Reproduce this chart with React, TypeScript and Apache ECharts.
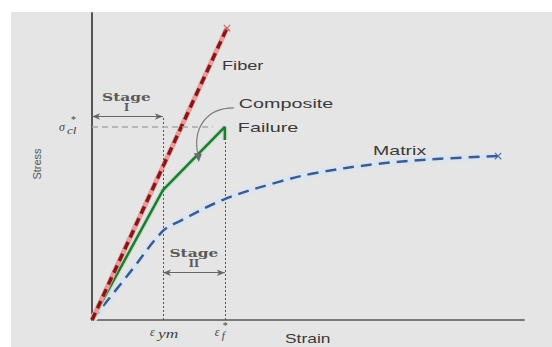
import React, { useEffect, useRef } from "react";
import * as echarts from "echarts";

// Data (strain, stress) in arbitrary units
const fiber: number[][] = [[0, 0], [3.75, 9.51]];
const composite: number[][] = [[0, 0], [1.97, 4.23], [3.69, 6.29], [3.69, 5.86]];
const matrix: number[][] = [
  [0, 0], [1.06, 1.56], [1.97, 2.9], [2.44, 3.22], [3.69, 3.94],
  [5.19, 4.5], [6.22, 4.79], [7.89, 5.08], [9.67, 5.25], [11.28, 5.34],
];
const epsYm = 1.97;
const epsF = 3.69;
const failDrop = 5.86;
const sigmaCl = 6.29;
const sigmaLineEnd = 3.35;
const stageIY = 6.63;
const stageIIY = 1.54;
const xMax = 12;
const yMax = 10;

const labelFont = "13px 'Liberation Sans', Arial, sans-serif";
const textColor = "#3a3a3a";
const crossPath = "path://M-1,-7L1,-7L1,7L-1,7Z M-7,-1L7,-1L7,1L-7,1Z";

export default function App() {
  const ref = useRef<HTMLDivElement>(null);
  useEffect(() => {
    if (!ref.current) return;
    const chart = echarts.init(ref.current, null, { renderer: "svg" });
    const lineBase = { type: "line", symbol: "none", silent: true, z: 3 };
    chart.setOption({
      animation: false,
      grid: { left: 92, right: 28, top: 13, bottom: 27 },
      xAxis: {
        type: "value", min: 0, max: xMax,
        axisLine: { show: true, onZero: false, lineStyle: { color: "#7a7a7a", width: 2 } },
        axisTick: { show: false }, axisLabel: { show: false }, splitLine: { show: false },
      },
      yAxis: {
        type: "value", min: 0, max: yMax,
        axisLine: { show: true, onZero: false, lineStyle: { color: "#555", width: 2 } },
        axisTick: { show: false }, axisLabel: { show: false }, splitLine: { show: false },
      },
      series: [
        {
          type: "line", data: [], silent: true,
          markLine: {
            silent: true, animation: false, label: { show: false },
            symbol: "none",
            data: [
              [{ coord: [epsYm, 0], lineStyle: { color: "#555", type: [2, 2], width: 1 } }, { coord: [epsYm, stageIY] }],
              [{ coord: [epsF, 0], lineStyle: { color: "#555", type: [2, 2], width: 1 } }, { coord: [epsF, failDrop] }],
              [{ coord: [0, sigmaCl], lineStyle: { color: "#a8a8a8", type: [6, 4], width: 1.5 } }, { coord: [sigmaLineEnd, sigmaCl] }],
            ],
          },
        },
        {
          type: "line", data: [], silent: true,
          markLine: {
            silent: true, animation: false, label: { show: false },
            symbol: ["arrow", "arrow"], symbolSize: [5, 8],
            lineStyle: { color: "#666", type: "solid", width: 1.2 },
            data: [
              [{ coord: [0, stageIY] }, { coord: [epsYm, stageIY] }],
              [{ coord: [epsYm, stageIIY] }, { coord: [epsF, stageIIY] }],
            ],
          },
        },
        // Matrix
        { ...lineBase, name: "MatrixHalo", data: matrix, smooth: 0.35, lineStyle: { color: "#dce5ee", width: 8 } },
        { ...lineBase, name: "Matrix", data: matrix, smooth: 0.35, lineStyle: { color: "#3b5b94", width: 2.5, type: [11, 7] } },
        // Composite
        { ...lineBase, name: "CompositeHalo", data: composite, lineStyle: { color: "#c4dfc8", width: 5 } },
        { ...lineBase, name: "Composite", data: composite, lineStyle: { color: "#1f7a33", width: 2.5 } },
        // Fiber
        { ...lineBase, name: "FiberHalo", data: fiber, lineStyle: { color: "#eb9a9a", width: 5 } },
        { ...lineBase, name: "Fiber", data: fiber, lineStyle: { color: "#861717", width: 3.5, type: [8, 5] } },
        // end crosses
        {
          type: "scatter", silent: true, z: 5,
          data: [
            { value: fiber[fiber.length - 1], itemStyle: { color: "#c25050" } },
            { value: matrix[matrix.length - 1], itemStyle: { color: "#3b5b94" } },
          ],
          symbol: crossPath, symbolSize: 9, symbolRotate: 45,
        },
      ],
    });

    const px = (x: number, y: number) => chart.convertToPixel({ gridIndex: 0 } as any, [x, y]) as number[];
    const t = (text: string, x: number, y: number, opts: any = {}) => ({
      type: "text", x, y, silent: true, z: 10,
      scaleX: opts.scaleX ?? 1, rotation: opts.rotation ?? 0,
      style: {
        text, fill: opts.fill ?? textColor, font: opts.font ?? labelFont,
        align: opts.align ?? "left", verticalAlign: opts.verticalAlign ?? "middle",
      },
    });

    const fTop = px(fiber[1][0], fiber[1][1]);
    const peak = px(composite[2][0], composite[2][1]);
    const mEnd = px(matrix[matrix.length - 1][0], matrix[matrix.length - 1][1]);
    const ym = px(epsYm, 0);
    const ef = px(epsF, 0);
    const sI = px(epsYm / 2, stageIY);
    const sII = px((epsYm + epsF) / 2, stageIIY);
    const sg = px(0, sigmaCl);
    const stageFont = "bold 11px 'DejaVu Serif', serif";
    const symFont = "italic 12px 'Liberation Serif', serif";
    const subFont = "italic 11px 'Liberation Serif', serif";

    const graphic: any[] = [
      { type: "rect", silent: true, z: -100, shape: { x: 11, y: 12, width: 541, height: 335 }, style: { fill: "#e5e5e5" } },
      t("Fiber", fTop[0] - 5, fTop[1] + 37, { scaleX: 1.4 }),
      t("Composite", peak[0] + 14, peak[1] - 23, { scaleX: 1.52 }),
      t("Failure", peak[0] + 13, peak[1] + 1, { scaleX: 1.52 }),
      t("Matrix", mEnd[0] - 125, mEnd[1] - 5, { scaleX: 1.5 }),
      t("Stage", sI[0] - 1, sI[1] - 20, { align: "center", font: stageFont, fill: "#5a5a5a", scaleX: 1.4 }),
      t("I", sI[0] - 1, sI[1] - 9, { align: "center", font: stageFont, fill: "#5a5a5a" }),
      t("Stage", sII[0], sII[1] - 20, { align: "center", font: stageFont, fill: "#5a5a5a", scaleX: 1.4 }),
      t("II", sII[0], sII[1] - 9, { align: "center", font: stageFont, fill: "#5a5a5a" }),
      // sigma*_cl
      t("σ", sg[0] - 33, sg[1], { font: symFont, fill: "#444" }),
      t("cl", sg[0] - 25, sg[1] + 3, { font: subFont, fill: "#444", scaleX: 1.2 }),
      t("*", sg[0] - 21, sg[1] - 7, { font: "10px 'Liberation Serif', serif", fill: "#444" }),
      // eps_ym
      t("ε", ym[0] - 13, ym[1] + 12, { font: symFont, fill: "#444" }),
      t("ym", ym[0] - 5, ym[1] + 14, { font: "italic 12px 'Liberation Serif', serif", fill: "#444", scaleX: 1.45 }),
      // eps*_f
      t("ε", ef[0] - 10, ef[1] + 12, { font: symFont, fill: "#444" }),
      t("f", ef[0] - 3, ef[1] + 15, { font: subFont, fill: "#444" }),
      t("*", ef[0] - 2, ef[1] + 5, { font: "10px 'Liberation Serif', serif", fill: "#444" }),
      // axis titles
      t("Strain", 285, 333, { verticalAlign: "top", scaleX: 1.45, font: "12px 'Liberation Sans', Arial, sans-serif" }),
      t("Stress", 37, 164, { align: "center", font: "11px 'Liberation Sans', Arial, sans-serif", fill: "#555", rotation: Math.PI / 2 }),
      // curved arrow from Composite label
      {
        type: "bezierCurve", silent: true, z: 10,
        shape: { x1: peak[0] + 9, y1: peak[1] - 19, cpx1: peak[0] - 20, cpy1: peak[1] - 19, cpx2: peak[0] - 32, cpy2: peak[1] + 3, x2: peak[0] - 27, y2: peak[1] + 27 },
        style: { stroke: "#7a7a7a", lineWidth: 1.2, fill: "none" },
      },
      {
        type: "polygon", silent: true, z: 10,
        shape: { points: [[peak[0] - 31, peak[1] + 26], [peak[0] - 23, peak[1] + 27], [peak[0] - 26, peak[1] + 35]] },
        style: { fill: "#6a6a6a" },
      },
    ];
    chart.setOption({ graphic });
    return () => chart.dispose();
  }, []);
  return (
    <div
      ref={ref}
      style={{ position: "fixed", left: 0, top: 0, width: 552, height: 347, background: "#ffffff" }}
    />
  );
}
